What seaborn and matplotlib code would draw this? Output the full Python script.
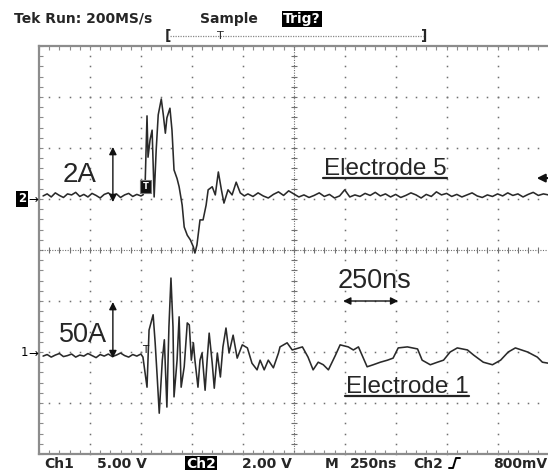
import numpy as np
import pandas as pd
import matplotlib
matplotlib.use("Agg")
import matplotlib.pyplot as plt
import seaborn as sns
from matplotlib.patches import Rectangle
from matplotlib.lines import Line2D

# ---------------- data (x: divisions of 250 ns, y: screen divisions) ----------------
ch2_t_pre = [0.08, 0.16, 0.24, 0.32, 0.40, 0.48, 0.56, 0.64, 0.72, 0.80, 0.88, 0.96, 1.04,
             1.12, 1.20, 1.28, 1.36, 1.44, 1.52, 1.60, 1.68, 1.76, 1.84, 1.92, 2.00]
ch2_v_pre = [1.06, 1.10, 1.04, 1.12, 1.07, 1.03, 1.10, 1.08, 1.13, 1.05, 1.09, 1.04, 1.11,
             1.07, 1.02, 1.09, 1.12, 1.06, 1.10, 1.03, 1.08, 1.11, 1.05, 1.09, 1.06]
ch2_t_pulse = [2.04, 2.08, 2.12, 2.14, 2.18, 2.22, 2.26, 2.30, 2.34, 2.40, 2.44, 2.48, 2.51,
               2.57, 2.61, 2.65, 2.71, 2.75, 2.81, 2.85, 2.91, 2.97, 3.03, 3.06, 3.10, 3.16,
               3.22, 3.28, 3.32, 3.40, 3.46, 3.52, 3.58, 3.63, 3.71, 3.79, 3.87, 3.95, 4.03]
ch2_v_pulse = [1.08, 1.18, 2.63, 1.82, 2.16, 2.35, 1.04, 1.96, 2.65, 2.96, 2.65, 2.29, 2.59,
               2.78, 2.35, 1.57, 1.40, 1.24, 0.88, 0.45, 0.29, 0.20, 0.06, -0.06, 0.10, 0.59,
               0.59, 0.88, 1.18, 1.24, 1.08, 1.53, 1.18, 0.92, 1.18, 1.08, 1.33, 1.12, 1.06]
ch2_t_post = [4.1, 4.2, 4.3, 4.4, 4.5, 4.6, 4.7, 4.8, 4.9, 5.0, 5.1, 5.2, 5.3, 5.4, 5.5, 5.6,
              5.7, 5.8, 5.9, 6.0, 6.1, 6.2, 6.3, 6.4, 6.5, 6.6, 6.7, 6.8, 6.9, 7.0, 7.1, 7.2,
              7.3, 7.4, 7.5, 7.6, 7.7, 7.8, 7.9, 8.0, 8.1, 8.2, 8.3, 8.4, 8.5, 8.6, 8.7, 8.8,
              8.9, 9.0, 9.1, 9.2, 9.3, 9.4, 9.5, 9.6, 9.7, 9.8, 9.9, 10.0]
ch2_v_post = [1.10, 1.05, 1.12, 1.06, 1.02, 1.09, 1.14, 1.07, 1.16, 1.10, 1.04, 1.08, 1.03,
              1.07, 1.12, 1.05, 1.09, 1.02, 1.06, 1.18, 1.04, 1.08, 1.05, 1.11, 1.07, 1.13,
              1.06, 1.10, 1.04, 1.09, 1.03, 1.07, 1.12, 1.08, 1.02, 1.09, 1.05, 1.14, 1.08,
              1.11, 1.05, 1.09, 1.04, 1.08, 1.12, 1.06, 1.03, 1.08, 1.05, 1.10, 1.06, 1.12,
              1.07, 1.10, 1.04, 1.09, 1.13, 1.07, 1.10, 1.08]

ch1_t_pre = [0.08, 0.16, 0.24, 0.32, 0.40, 0.48, 0.56, 0.64, 0.72, 0.80, 0.88, 0.96, 1.04,
             1.12, 1.20, 1.28, 1.36, 1.44, 1.52, 1.60, 1.68, 1.76, 1.84, 1.92, 2.00]
ch1_v_pre = [-2.08, -2.05, -2.10, -2.06, -2.03, -2.09, -2.07, -2.04, -2.10, -2.06, -2.08,
             -2.03, -2.07, -2.11, -2.05, -2.08, -2.04, -2.09, -2.06, -2.02, -2.07, -2.10,
             -2.05, -2.08, -2.04]
ch1_t_pulse = [2.04, 2.12, 2.16, 2.24, 2.28, 2.32, 2.36, 2.42, 2.46, 2.51, 2.55, 2.59, 2.63,
               2.65, 2.71, 2.75, 2.79, 2.85, 2.91, 2.95, 2.99, 3.03, 3.06, 3.12, 3.16, 3.20,
               3.26, 3.30, 3.34, 3.40, 3.44, 3.50, 3.56, 3.61, 3.67, 3.73, 3.81, 3.89, 3.99,
               4.09, 4.18, 4.28, 4.34, 4.42, 4.50, 4.60, 4.70, 4.73, 4.87, 4.97]
ch1_v_pulse = [-2.10, -2.69, -1.57, -1.27, -1.82, -2.49, -3.20, -2.16, -1.76, -3.08, -1.51,
               -0.55, -1.51, -2.88, -2.16, -1.31, -2.69, -2.29, -1.43, -1.47, -2.16, -1.82,
               -2.16, -2.69, -2.16, -2.02, -2.75, -2.16, -1.63, -2.22, -2.71, -2.02, -2.49,
               -1.90, -1.53, -2.02, -1.67, -2.12, -1.86, -1.92, -2.22, -2.35, -2.16, -2.35,
               -2.16, -2.31, -2.02, -1.90, -1.82, -1.96]
ch1_t_post = [5.17, 5.28, 5.38, 5.48, 5.58, 5.68, 5.82, 5.91, 6.07, 6.17, 6.27, 6.44, 6.56,
              6.70, 6.84, 6.95, 7.05, 7.23, 7.43, 7.52, 7.68, 7.82, 7.94, 8.07, 8.21, 8.41,
              8.53, 8.72, 8.90, 9.06, 9.21, 9.35, 9.59, 9.78, 9.88, 10.0]
ch1_v_post = [-1.90, -2.10, -2.35, -2.20, -2.25, -2.35, -2.06, -1.86, -1.90, -1.96, -1.90,
              -2.29, -2.25, -2.20, -2.16, -2.12, -1.92, -1.90, -1.94, -2.16, -2.25, -2.20,
              -2.16, -2.00, -1.92, -1.96, -2.06, -2.20, -2.25, -2.16, -2.00, -1.92, -2.00,
              -2.10, -2.20, -2.22]

header_texts = ["Tek Run: 200MS/s", "Sample", "Trig?"]
footer_texts = ["Ch1", "5.00 V", "Ch2", "2.00 V", "M", "250ns", "Ch2", "800mV"]

# ---------------- figure ----------------
sns.set_style("white")
plt.rcParams['font.family'] = ['DejaVu Sans']

W, H = 548, 470
def fx(x):
    return x / W
def fy(y):
    return 1 - y / H

fig = plt.figure(figsize=(W / 100, H / 100), dpi=100)
ax = fig.add_axes([39 / W, (H - 454) / H, 509.5 / W, 408 / H])
ax.set_xlim(0, 10)
ax.set_ylim(-4, 4)

grat = '#707070'
ys = np.arange(-4, 4.001, 0.2)
xs = np.arange(0, 10.001, 0.2)
for gx in [1, 2, 3, 4, 6, 7, 8, 9, 10]:
    ax.plot([gx] * len(ys), ys, ls='none', marker='s', ms=1.1, mew=0, color=grat, clip_on=False)
for gy in [-3, -2, -1, 1, 2, 3]:
    ax.plot(xs, [gy] * len(xs), ls='none', marker='s', ms=1.1, mew=0, color=grat)
ax.plot([0, 10], [0, 0], color=grat, lw=0.8, ls=(0, (1, 1.3)))
ax.plot([5, 5], [-4, 4], color=grat, lw=0.8, ls=(0, (1, 1.3)))
ax.plot(xs, [0] * len(xs), ls='none', marker='|', ms=4, mew=0.8, color=grat)
ax.plot([5] * len(ys), ys, ls='none', marker='_', ms=4, mew=0.8, color=grat)

for s in ['left', 'top', 'bottom']:
    ax.spines[s].set_color('#8c8c8c')
    ax.spines[s].set_linewidth(1.6)
ax.spines['right'].set_visible(False)
ax.set_xticks(xs)
ax.set_yticks(ys)
ax.tick_params(axis='both', which='both', direction='in', length=3, width=0.8,
               color='#8c8c8c', labelbottom=False, labelleft=False,
               top=True, bottom=True, left=True, right=False)

tc = '#2a2a2a'
df2 = pd.DataFrame({'t': ch2_t_pre + ch2_t_pulse + ch2_t_post,
                    'v': ch2_v_pre + ch2_v_pulse + ch2_v_post})
df1 = pd.DataFrame({'t': ch1_t_pre + ch1_t_pulse + ch1_t_post,
                    'v': ch1_v_pre + ch1_v_pulse + ch1_v_post})
sns.lineplot(data=df2, x='t', y='v', ax=ax, color=tc, lw=1.15, sort=False, estimator=None)
sns.lineplot(data=df1, x='t', y='v', ax=ax, color=tc, lw=1.15, sort=False, estimator=None)
ax.set_xlabel('')
ax.set_ylabel('')

af = 'Liberation Sans'
ax.text(0.80, 1.33, '2A', fontsize=20, family=af, ha='center', va='baseline')
ax.text(0.86, -1.80, '50A', fontsize=19.5, family=af, ha='center', va='baseline')
ax.text(6.79, 1.47, 'Electrode 5', fontsize=17.5, family=af, ha='center', va='baseline')
ax.plot([5.58, 8.01], [1.41, 1.41], color='#222222', lw=1.6)
ax.text(7.22, -2.80, 'Electrode 1', fontsize=17.5, family=af, ha='center', va='baseline')
ax.plot([6.0, 8.44], [-2.86, -2.86], color='#222222', lw=1.6)
ax.text(6.59, -0.75, '250ns', fontsize=19.5, family=af, ha='center', va='baseline')

arw = dict(arrowstyle='<|-|>', color='#111111', lw=1.0, mutation_scale=11, shrinkA=0, shrinkB=0)
ax.annotate('', xy=(1.45, 2.02), xytext=(1.45, 0.94), arrowprops=arw)
ax.annotate('', xy=(1.45, -1.02), xytext=(1.45, -2.12), arrowprops=arw)
ax.annotate('', xy=(5.97, -1.0), xytext=(7.05, -1.0), arrowprops=arw)
ax.annotate('', xy=(9.77, 1.41), xytext=(10.05, 1.41), annotation_clip=False,
            arrowprops=dict(arrowstyle='-|>', color='#111111', lw=1.5, mutation_scale=12,
                            shrinkA=0, shrinkB=0))

ax.add_patch(Rectangle((1.98, 1.12), 0.22, 0.25, fc='#111111', ec='#777777', lw=0.8, zorder=5))
ax.text(2.09, 1.245, 'T', color='white', fontsize=6, ha='center', va='center', zorder=6,
        fontweight='bold')
ax.text(2.09, -1.86, 'T', color='#111111', fontsize=7.5, ha='center', va='top')

fig.text(fx(22), fy(199), '2', color='white', fontsize=8.5, fontweight='bold', ha='center',
         va='center', bbox=dict(fc='black', ec='none', pad=1.2))
fig.text(fx(33), fy(199), '\u2192', color='black', fontsize=8.5, ha='center', va='center')
fig.text(fx(24), fy(353), '1', color='black', fontsize=8.5, ha='center', va='center')
fig.text(fx(33), fy(353), '\u2192', color='black', fontsize=8.5, ha='center', va='center')

fs = 10
fw = 'bold'
fig.text(fx(14), fy(23), header_texts[0], fontsize=fs, fontweight=fw, va='baseline', ha='left')
fig.text(fx(200), fy(23), header_texts[1], fontsize=fs, fontweight=fw, va='baseline', ha='left')
fig.text(fx(302), fy(23), header_texts[2], fontsize=fs, va='baseline', ha='center',
         color='white', fontweight='bold', bbox=dict(fc='black', ec='none', pad=1.0))
fig.add_artist(Line2D([fx(170), fx(423)], [fy(36), fy(36)], color='#888888', lw=0.9,
                      ls=(0, (1, 1))))
fig.text(fx(168), fy(36), '[', fontsize=10, fontweight='bold', ha='center', va='center')
fig.text(fx(424), fy(36), ']', fontsize=10, fontweight='bold', ha='center', va='center')
fig.text(fx(220), fy(36), 'T', fontsize=8, ha='center', va='center')

fb = 468
fig.text(fx(44), fy(fb), footer_texts[0], fontsize=fs, fontweight=fw, va='baseline', ha='left')
fig.text(fx(97), fy(fb), footer_texts[1], fontsize=fs, fontweight=fw, va='baseline', ha='left')
fig.text(fx(201), fy(fb), footer_texts[2], fontsize=fs, fontweight=fw, va='baseline', ha='center',
         color='white', bbox=dict(fc='black', ec='none', pad=1.0))
fig.text(fx(242), fy(fb), footer_texts[3], fontsize=fs, fontweight=fw, va='baseline', ha='left')
fig.text(fx(325), fy(fb), footer_texts[4], fontsize=fs, fontweight=fw, va='baseline', ha='left')
fig.text(fx(350), fy(fb), footer_texts[5], fontsize=fs, fontweight=fw, va='baseline', ha='left')
fig.text(fx(413), fy(fb), footer_texts[6], fontsize=fs, fontweight=fw, va='baseline', ha='left')
fig.add_artist(Line2D([fx(449), fx(453), fx(456), fx(460)],
                      [fy(468), fy(468), fy(458), fy(458)], color='black', lw=1.4))
fig.text(fx(547), fy(fb), footer_texts[7], fontsize=fs, fontweight=fw, va='baseline', ha='right')

fig.savefig('out.png', dpi=100, facecolor='white')
